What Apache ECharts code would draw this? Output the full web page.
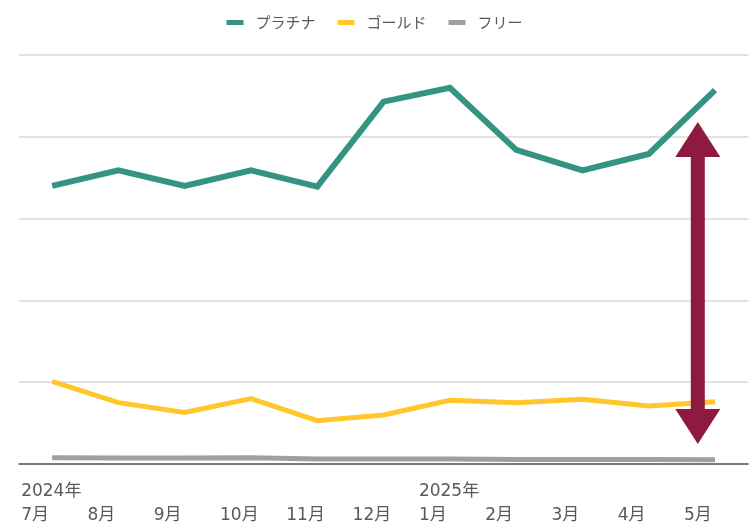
<!DOCTYPE html>
<html>
<head>
<meta charset="utf-8">
<script src="https://cdn.jsdelivr.net/npm/echarts@6/dist/echarts.min.js"></script>
<style>html,body{margin:0;padding:0;background:#fff;}#c{width:749px;height:528px;}</style>
</head>
<body>
<div id="c"></div>
<script>
const categories = ['2024年\n7月', '\n8月', '\n9月', '\n10月', '\n11月', '\n12月', '2025年\n1月', '\n2月', '\n3月', '\n4月', '\n5月'];
const seriesNames = ['プラチナ', 'ゴールド', 'フリー'];
const platinum = [34.0, 35.9, 34.0, 35.9, 33.9, 44.3, 46.0, 38.4, 35.9, 37.9, 45.7];
const gold = [10.1, 7.5, 6.3, 8.0, 5.3, 6.0, 7.8, 7.5, 7.9, 7.1, 7.6];
const free = [0.75, 0.72, 0.72, 0.75, 0.6, 0.62, 0.62, 0.56, 0.56, 0.56, 0.53];
const arrowRange = [41.8, 2.45];

const chart = echarts.init(document.getElementById('c'), null, {renderer: 'canvas'});
const font = '"DejaVu Sans", "Noto Sans CJK JP", sans-serif';
const colors = ['#359383', '#FFC72C', '#A0A0A0'];
const widths = [6, 5, 5];
const dataSets = [platinum, gold, free];

chart.setOption({
  animation: false,
  textStyle: {fontFamily: font},
  legend: {
    top: 10,
    left: 'center',
    icon: 'rect',
    itemWidth: 17,
    itemHeight: 5,
    itemGap: 22,
    textStyle: {fontSize: 15, color: '#595959', fontFamily: '"Noto Sans CJK JP", sans-serif', padding: [0, 0, 0, 7]},
    data: seriesNames
  },
  grid: {left: 19, right: 0, top: 55, bottom: 64, containLabel: false},
  xAxis: {
    type: 'category',
    boundaryGap: true,
    data: categories,
    axisLine: {show: true, lineStyle: {color: '#595959', width: 1.5}},
    axisTick: {show: false},
    axisLabel: {
      interval: 0,
      margin: 16,
      formatter: function (v) { return v.split('\n').map(function (s) { return '{a|' + s + '}'; }).join('\n'); },
      rich: {a: {width: 62, align: 'left', fontSize: 17, lineHeight: 24, color: '#595959', fontFamily: font}}
    }
  },
  yAxis: {
    type: 'value',
    min: 0,
    max: 50,
    interval: 10,
    axisLabel: {show: false},
    axisLine: {show: false},
    axisTick: {show: false},
    splitLine: {lineStyle: {color: '#D9D9D9', width: 1.5}}
  },
  series: seriesNames.map(function (n, i) {
    return {
      name: n,
      type: 'line',
      data: dataSets[i],
      symbol: 'none',
      z: 3 - i,
      lineStyle: {color: colors[i], width: widths[i], cap: 'butt', join: 'miter'},
      itemStyle: {color: colors[i]}
    };
  })
});

function drawArrow() {
  const last = categories.length - 1;
  const px = chart.convertToPixel({xAxisIndex: 0}, last);
  const px2 = chart.convertToPixel({xAxisIndex: 0}, last - 1);
  const x = px - (px - px2) * 0.26;
  const yTop = chart.convertToPixel({yAxisIndex: 0}, arrowRange[0]);
  const yBot = chart.convertToPixel({yAxisIndex: 0}, arrowRange[1]);
  const headH = 35, headW = 22.5, shaftW = 7;
  chart.setOption({
    graphic: [{
      type: 'polygon',
      z: 100,
      shape: {points: [
        [x, yTop], [x + headW, yTop + headH], [x + shaftW, yTop + headH],
        [x + shaftW, yBot - headH], [x + headW, yBot - headH], [x, yBot],
        [x - headW, yBot - headH], [x - shaftW, yBot - headH],
        [x - shaftW, yTop + headH], [x - headW, yTop + headH]
      ]},
      style: {fill: '#8E1B3F'}
    }]
  });
}
drawArrow();
</script>
</body>
</html>
